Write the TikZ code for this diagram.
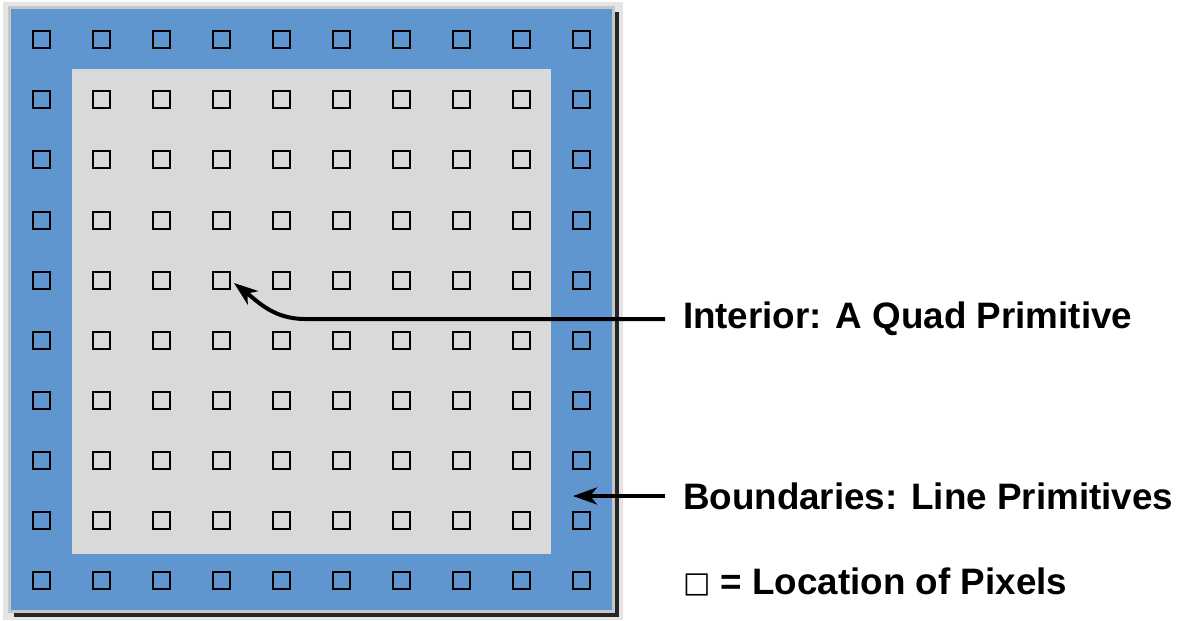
\documentclass[tikz,border=0pt]{standalone}
\usepackage{fontspec}
\setmainfont{Liberation Sans}
\newfontfamily\symfont{DejaVu Sans}
\usetikzlibrary{arrows.meta,positioning}
\definecolor{edgeblue}{RGB}{95,150,207}
\definecolor{quadgray}{RGB}{217,217,217}
\tikzset{
  pixel/.style={draw=black, line width=1pt, minimum size=8.5pt, inner sep=0pt},
  callout/.style={font=\fontsize{18.4}{21}\selectfont\bfseries, inner sep=0pt, outer xsep=9pt, anchor=west},
  pointer/.style={->, line width=2pt},
}
\begin{document}
\begin{tikzpicture}[x=0.5pt, y=-0.5pt, >={Stealth[length=12pt, width=8.5pt, inset=3.5pt]}]
  \useasboundingbox (0,0) rectangle (1181,620);

  % Frame with drop shadow
  \fill[gray!20] (3,2) rectangle (623,620);
  \fill[black!85] (14,12) rectangle (619,617);
  \fill[gray!45] (8,6) rectangle (615,613);
  \fill[edgeblue] (11,9) rectangle (612,610);

  % Interior quad
  \fill[quadgray] (72,69) rectangle (551,554);

  % Pixel locations
  \foreach \i in {0,...,9}
    \foreach \j in {0,...,9}
      \node[pixel] (p\i\j) at ({41+60*\i},{40+60*\j}) {};

  % Labels
  \node[callout] (interior) at (665,319) {Interior: A Quad Primitive};
  \node[callout] (bound) at (665,496) {Boundaries: Line Primitives};
  \node[callout] (legend) at (665,582) {\raisebox{1.2pt}{\symfont\fontsize{14.5}{17}\selectfont □} = Location of Pixels};

  % Pointers
  \coordinate (quadtip) at (234,283);
  \coordinate (edgetip) at (573,496);
  \draw[pointer] (interior.west) -- (305,319) to[out=180, in=-38] (quadtip);
  \draw[pointer] (bound.west) -- (edgetip);
\end{tikzpicture}
\end{document}
